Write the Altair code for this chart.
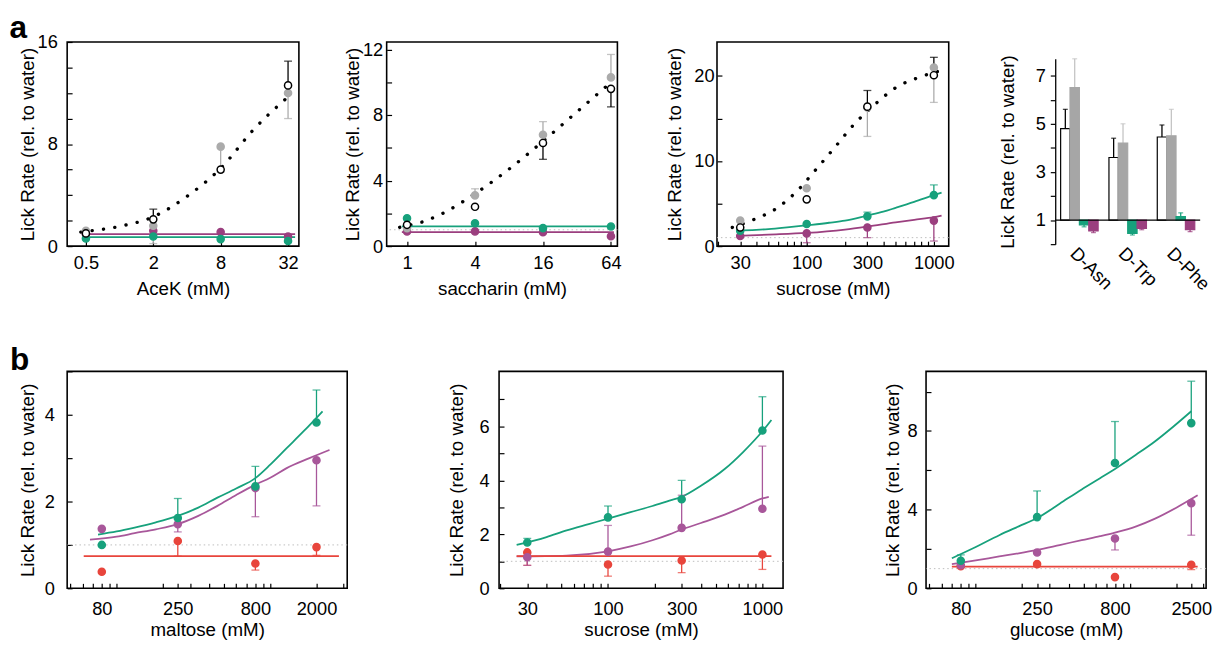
import altair as alt
import pandas as pd

FONT = "Liberation Sans"
GREEN = "#17a17c"
PURPLE = "#9b3f7f"
PURPLE_B = "#a8579a"
RED = "#e8453c"
GREY = "#ababab"
BAR_GREY = "#a6a6a6"

A_SERIES = ["control", "1-KO", "2-KO", "3-KO"]
B_SERIES = ["2-KO", "3-KO", "2/3-KO"]

# ---------------- panel a1 : AceK ----------------
ACEK_MM = [0.5, 2, 8, 32]
ACEK_CONTROL = [1.0, 2.1, 6.0, 12.6]
ACEK_CONTROL_END = [1.0, 2.9, 6.0, 14.5]
ACEK_1KO = [1.2, 1.6, 7.8, 12.0]
ACEK_1KO_END = [1.2, 0.2, 5.8, 10.0]
ACEK_2KO = [0.6, 0.75, 0.55, 0.4]
ACEK_3KO = [0.95, 1.2, 1.1, 0.75]
ACEK_DOT_X = [0.45, 0.5, 1, 2, 4, 8, 16, 32, 35]
ACEK_DOT_Y = [1.1, 1.15, 1.55, 2.3, 3.9, 6.1, 9.2, 11.7, 12.0]
ACEK_LINE_X = [0.47, 37]
ACEK_LINE_2KO = [0.7, 0.7]
ACEK_LINE_3KO = [0.95, 0.95]

# ---------------- panel a2 : saccharin ----------------
SACC_MM = [1, 4, 16, 64]
SACC_CONTROL = [1.3, 2.4, 6.3, 9.6]
SACC_CONTROL_END = [1.3, 2.4, 5.3, 8.5]
SACC_1KO = [1.1, 3.1, 6.8, 10.3]
SACC_1KO_END = [1.1, 3.5, 7.6, 11.7]
SACC_2KO = [1.7, 1.4, 1.1, 1.2]
SACC_3KO = [0.9, 0.9, 0.85, 0.6]
SACC_DOT_X = [0.86, 1.4, 2, 4, 8, 16, 32, 64]
SACC_DOT_Y = [1.15, 1.5, 1.95, 3.2, 4.7, 6.4, 8.2, 10.0]
SACC_LINE_X = [0.9, 68]
SACC_LINE_2KO = [1.2, 1.2]
SACC_LINE_3KO = [0.85, 0.85]

# ---------------- panel a3 : sucrose ----------------
SUCA_MM = [30, 100, 300, 1000]
SUCA_CONTROL = [2.2, 5.5, 16.4, 20.1]
SUCA_CONTROL_END = [2.2, 5.5, 18.3, 22.2]
SUCA_1KO = [3.0, 6.8, 16.3, 21.0]
SUCA_1KO_END = [3.0, 6.8, 12.9, 16.9]
SUCA_2KO = [1.8, 2.6, 3.5, 6.0]
SUCA_2KO_END = [1.8, 2.6, 4.0, 7.2]
SUCA_3KO = [1.2, 1.5, 2.2, 3.0]
SUCA_3KO_END = [1.2, 0.4, 1.0, 0.6]
SUCA_DOT_X = [26, 38, 56, 83, 118, 164, 235, 346, 510, 750, 1110]
SUCA_DOT_Y = [2.2, 3.1, 4.3, 6.4, 9.0, 11.5, 14.3, 16.7, 18.7, 19.8, 20.6]
SUCA_2KO_FIT_X = [28, 40, 50, 70, 100, 150, 200, 300, 400, 500, 700, 1000, 1150]
SUCA_2KO_FIT_Y = [1.85, 1.92, 2.0, 2.2, 2.45, 2.75, 3.0, 3.6, 4.05, 4.5, 5.2, 6.0, 6.3]
SUCA_3KO_FIT_X = [28, 50, 100, 200, 300, 500, 700, 1000, 1150]
SUCA_3KO_FIT_Y = [1.2, 1.35, 1.55, 1.95, 2.3, 2.8, 3.1, 3.4, 3.6]

# ---------------- panel a4 : D-amino acids ----------------
BAR_CATS = ["D-Asn", "D-Trp", "D-Phe"]
BAR_CONTROL = [4.8, 3.6, 4.45]
BAR_CONTROL_END = [5.6, 4.4, 4.95]
BAR_1KO = [6.5, 4.2, 4.5]
BAR_1KO_END = [7.7, 5.0, 5.6]
BAR_2KO = [0.8, 0.45, 1.15]
BAR_2KO_END = [0.72, 0.38, 1.3]
BAR_3KO = [0.55, 0.65, 0.6]
BAR_3KO_END = [0.48, 0.6, 0.52]
BAR_BASE = 1.0

# ---------------- panel b1 : maltose ----------------
MALT_MM = [80, 250, 800, 2000]
MALT_2KO = [1.0, 1.62, 2.35, 3.82]
MALT_2KO_END = [1.0, 2.07, 2.81, 4.57]
MALT_3KO = [1.37, 1.48, 2.31, 2.95]
MALT_3KO_END = [1.37, 1.3, 1.65, 1.9]
MALT_23KO = [0.38, 1.09, 0.57, 0.95]
MALT_23KO_END = [0.38, 0.74, 0.42, 0.76]
MALT_2KO_FIT_X = [75.6, 100, 131, 180, 250, 340, 453, 600, 800, 1000, 1279, 1650, 2190]
MALT_2KO_FIT_Y = [1.24, 1.31, 1.40, 1.52, 1.67, 1.86, 2.09, 2.30, 2.54, 2.85, 3.23, 3.62, 4.08]
MALT_3KO_FIT_X = [67, 100, 131, 180, 250, 340, 453, 600, 800, 1000, 1279, 1800, 2430]
MALT_3KO_FIT_Y = [1.12, 1.19, 1.27, 1.36, 1.48, 1.67, 1.90, 2.15, 2.39, 2.55, 2.77, 3.0, 3.19]
MALT_23KO_FIT_X = [61, 2800]
MALT_23KO_FIT_Y = [0.74, 0.74]

# ---------------- panel b2 : sucrose ----------------
SUCB_MM = [30, 100, 300, 1000]
SUCB_2KO = [1.7, 2.63, 3.3, 5.85]
SUCB_2KO_END = [1.85, 3.05, 4.0, 7.1]
SUCB_3KO = [1.15, 1.36, 2.24, 2.95]
SUCB_3KO_END = [0.85, 2.33, 3.45, 5.27]
SUCB_23KO = [1.33, 0.88, 1.03, 1.25]
SUCB_23KO_END = [0.85, 0.45, 0.58, 0.7]
SUCB_2KO_FIT_X = [25.6, 40, 54, 75, 100, 140, 194, 250, 300, 400, 570, 750, 1000, 1144]
SUCB_2KO_FIT_Y = [1.61, 1.9, 2.15, 2.38, 2.58, 2.82, 3.05, 3.25, 3.39, 3.8, 4.42, 5.05, 5.82, 6.24]
SUCB_3KO_FIT_X = [25.6, 54, 100, 140, 194, 250, 300, 400, 570, 750, 1000, 1100]
SUCB_3KO_FIT_Y = [1.18, 1.21, 1.37, 1.55, 1.78, 2.0, 2.18, 2.42, 2.73, 3.02, 3.33, 3.39]
SUCB_23KO_FIT_X = [25.6, 1144]
SUCB_23KO_FIT_Y = [1.19, 1.19]

# ---------------- panel b3 : glucose ----------------
GLUC_MM = [80, 250, 800, 2500]
GLUC_2KO = [1.4, 3.62, 6.37, 8.4]
GLUC_2KO_END = [1.7, 4.95, 8.48, 10.53]
GLUC_3KO = [1.17, 1.82, 2.53, 4.33]
GLUC_3KO_END = [1.17, 1.82, 1.95, 2.7]
GLUC_23KO = [1.12, 1.23, 0.57, 1.2]
GLUC_23KO_END = [1.12, 1.23, 0.57, 0.95]
GLUC_2KO_FIT_X = [70, 100, 142, 190, 250, 350, 487, 640, 800, 1100, 1444, 1900, 2500]
GLUC_2KO_FIT_Y = [1.53, 2.1, 2.7, 3.15, 3.57, 4.3, 5.03, 5.6, 6.07, 6.8, 7.45, 8.2, 9.0]
GLUC_3KO_FIT_X = [70, 100, 142, 190, 250, 350, 487, 640, 800, 1100, 1444, 2000, 2750]
GLUC_3KO_FIT_Y = [1.23, 1.42, 1.62, 1.78, 1.95, 2.2, 2.45, 2.65, 2.83, 3.15, 3.53, 4.1, 4.73]
GLUC_23KO_FIT_X = [70, 2750]
GLUC_23KO_FIT_Y = [1.1, 1.1]

# axis tick positions and labels
ACEK_XTICKS = [0.5, 2, 8, 32]
SACC_XTICKS = [1, 4, 16, 64]
SUC_XTICKS = [20, 30, 40, 50, 60, 70, 80, 90, 100, 200, 300, 400, 500, 600, 700, 800, 900, 1000]
SUC_XLABELS = [30, 100, 300, 1000]
MALT_XTICKS = [50, 60, 70, 80, 90, 100, 200, 250, 300, 400, 500, 600, 700, 800, 900, 1000, 2000, 3000]
MALT_XLABELS = [80, 250, 800, 2000]
GLUC_XTICKS = [50, 60, 70, 80, 90, 100, 200, 250, 300, 400, 500, 600, 700, 800, 900, 1000, 2000, 2500, 3000]
GLUC_XLABELS = [80, 250, 800, 2500]

YTITLE = "Lick Rate (rel. to water)"
LABEL_SIZE = 18.5
XTITLE_SIZE = 19
YTITLE_SIZE = 19


def lab_expr(vals):
    return "indexof([" + ",".join(repr(v) for v in vals) + "], datum.value) >= 0 ? datum.label : ''"


def point_frame(xs, series):
    rows = []
    for name, vals, ends in series:
        for x, v, e in zip(xs, vals, ends):
            rows.append({"x": x, "y": v, "end": e, "s": name})
    return pd.DataFrame(rows)


def curve_frame(curves):
    rows = []
    for name, xs, ys in curves:
        for x, y in zip(xs, ys):
            rows.append({"x": x, "y": y, "s": name})
    return pd.DataFrame(rows)


def x_axis(vals, labels, title, label_pad, title_pad):
    return alt.Axis(values=vals, labelExpr=lab_expr(labels), format="~g", title=title,
                    domain=False, ticks=True, tickSize=5, offset=-5, tickColor="black",
                    tickWidth=1.2, labelPadding=label_pad, labelFontSize=LABEL_SIZE,
                    titleFontSize=XTITLE_SIZE, titlePadding=title_pad, grid=False,
                    labelFlush=False, labelOverlap=False, labelColor="black",
                    titleColor="black", titleFontWeight="normal")


def y_axis(vals, labels, label_pad, title_pad):
    return alt.Axis(values=vals, labelExpr=lab_expr(labels), format="~g", title=YTITLE,
                    domain=False, ticks=True, tickSize=5, offset=-5, tickColor="black",
                    tickWidth=1.2, labelPadding=label_pad, labelFontSize=LABEL_SIZE,
                    titleFontSize=YTITLE_SIZE, titlePadding=title_pad, grid=False, labelFlush=False,
                    labelOverlap=False, labelColor="black", titleColor="black",
                    titleFontWeight="normal")


def line_panel(pts, curves, dotted, xdom, xticks, xlabels, xtitle, ydom, yticks, ylabels,
               width, height, domain, fills, strokes, legend=None, ref_one=False,
               ylabel_pad=8, ytitle_pad=6, xlabel_pad=8, xtitle_pad=8):
    xsc = alt.Scale(type="log", domain=xdom, nice=False)
    ysc = alt.Scale(domain=ydom, nice=False, zero=False)
    xax = x_axis(xticks, xlabels, xtitle, xlabel_pad, xtitle_pad)
    yax = y_axis(yticks, ylabels, ylabel_pad, ytitle_pad)
    X = alt.X("x:Q", scale=xsc, axis=xax)
    Y = alt.Y("y:Q", scale=ysc, axis=yax)
    color = alt.Color("s:N", scale=alt.Scale(domain=domain, range=strokes), legend=None)
    layers = []
    if ref_one:
        layers.append(alt.Chart(pd.DataFrame({"y": [1.0]})).mark_rule(
            color="#bdbdbd", strokeDash=[1.5, 3], strokeWidth=1).encode(y=Y))
    if dotted is not None:
        layers.append(alt.Chart(pd.DataFrame({"x": dotted[0], "y": dotted[1]})).mark_line(
            color="black", strokeWidth=3.4, strokeDash=[0.1, 11.5], strokeCap="round",
            interpolate="monotone", clip=True
        ).encode(x=X, y=Y))
    layers.append(alt.Chart(curve_frame(curves)).mark_line(
        strokeWidth=1.8, interpolate="monotone", clip=True).encode(x=X, y=Y, color=color))
    err = pts[pts["end"] != pts["y"]]
    layers.append(alt.Chart(err).mark_rule(strokeWidth=1.3).encode(
        x=X, y=Y, y2="end:Q", color=color))
    layers.append(alt.Chart(err).mark_tick(orient="horizontal", size=8, thickness=1.3).encode(
        x=X, y=alt.Y("end:Q", scale=ysc, axis=yax), color=color))
    layers.append(alt.Chart(pts).mark_point(filled=True, size=52, strokeWidth=1.5, opacity=1).encode(
        x=X, y=Y,
        fill=alt.Fill("s:N", scale=alt.Scale(domain=domain, range=fills), legend=legend),
        stroke=alt.Stroke("s:N", scale=alt.Scale(domain=domain, range=strokes), legend=legend)))
    return alt.layer(*layers).properties(width=width, height=height)


A_FILLS = ["white", GREY, GREEN, PURPLE]
A_STROKES = ["black", GREY, GREEN, PURPLE]
B_COLORS = [GREEN, PURPLE_B, RED]

legend_a = alt.Legend(orient="none", legendX=12, legendY=7, title=None, strokeColor="black",
                      fillColor="white", padding=7, symbolOffset=3, symbolSize=26,
                      symbolStrokeWidth=1.5, labelOffset=14, labelFontSize=13, rowPadding=3,
                      labelFont=FONT, labelColor="black", symbolType="circle")
legend_b = alt.Legend(orient="none", legendX=15, legendY=6, title=None, strokeColor="black",
                      fillColor="white", padding=6, symbolOffset=10, symbolSize=30,
                      symbolStrokeWidth=1.5, labelOffset=16, labelFontSize=13, rowPadding=11,
                      labelFont=FONT, labelColor="black", symbolType="circle",
                      labelExpr="datum.label + '" + "\u00a0" * 9 + "'")

# ----- a1
a1_pts = point_frame(ACEK_MM, [("3-KO", ACEK_3KO, ACEK_3KO), ("2-KO", ACEK_2KO, ACEK_2KO),
                               ("1-KO", ACEK_1KO, ACEK_1KO_END), ("control", ACEK_CONTROL, ACEK_CONTROL_END)])
a1 = line_panel(a1_pts, [("2-KO", ACEK_LINE_X, ACEK_LINE_2KO), ("3-KO", ACEK_LINE_X, ACEK_LINE_3KO)],
                (ACEK_DOT_X, ACEK_DOT_Y), [0.34, 40], ACEK_XTICKS, ACEK_XTICKS, "AceK (mM)",
                [0, 16], list(range(0, 17, 2)), [0, 8, 16], 235, 207, A_SERIES, A_FILLS, A_STROKES,
                legend=legend_a, ylabel_pad=10, ytitle_pad=0)

# ----- a2
a2_pts = point_frame(SACC_MM, [("3-KO", SACC_3KO, SACC_3KO), ("2-KO", SACC_2KO, SACC_2KO),
                               ("1-KO", SACC_1KO, SACC_1KO_END), ("control", SACC_CONTROL, SACC_CONTROL_END)])
a2 = line_panel(a2_pts, [("2-KO", SACC_LINE_X, SACC_LINE_2KO), ("3-KO", SACC_LINE_X, SACC_LINE_3KO)],
                (SACC_DOT_X, SACC_DOT_Y), [0.66, 73], SACC_XTICKS, SACC_XTICKS, "saccharin (mM)",
                [0, 12.46], list(range(0, 13, 2)), [0, 4, 8, 12], 234, 207, A_SERIES, A_FILLS, A_STROKES,
                ref_one=True, ylabel_pad=4, ytitle_pad=0)

# ----- a3
a3_pts = point_frame(SUCA_MM, [("3-KO", SUCA_3KO, SUCA_3KO_END), ("2-KO", SUCA_2KO, SUCA_2KO_END),
                               ("1-KO", SUCA_1KO, SUCA_1KO_END), ("control", SUCA_CONTROL, SUCA_CONTROL_END)])
a3 = line_panel(a3_pts, [("2-KO", SUCA_2KO_FIT_X, SUCA_2KO_FIT_Y), ("3-KO", SUCA_3KO_FIT_X, SUCA_3KO_FIT_Y)],
                (SUCA_DOT_X, SUCA_DOT_Y), [19.7, 1309], SUC_XTICKS, SUC_XLABELS, "sucrose (mM)",
                [0, 24], [0, 5, 10, 15, 20], [0, 10, 20], 235, 207, A_SERIES, A_FILLS, A_STROKES,
                ref_one=True, ylabel_pad=3, ytitle_pad=9)

# ----- a4 (bars)
bar_rows = []
for name, vals, ends in [("control", BAR_CONTROL, BAR_CONTROL_END), ("1-KO", BAR_1KO, BAR_1KO_END),
                         ("2-KO", BAR_2KO, BAR_2KO_END), ("3-KO", BAR_3KO, BAR_3KO_END)]:
    for c, v, e in zip(BAR_CATS, vals, ends):
        bar_rows.append({"cat": c, "s": name, "y": v, "end": e, "base": BAR_BASE})
bars_df = pd.DataFrame(bar_rows)

bx_axis = alt.Axis(title=None, domain=False, ticks=False, labelAngle=45, labelAlign="left",
                   labelBaseline="middle", labelFontSize=LABEL_SIZE, labelPadding=6, labelOffset=-6,
                   labelColor="black")
by_axis = alt.Axis(values=list(range(0, 8)), labelExpr=lab_expr([1, 3, 5, 7]), title=YTITLE,
                   domain=True, domainColor="black", domainWidth=1.3, ticks=True, tickSize=5,
                   tickColor="black", tickWidth=1.2, labelPadding=5, labelFontSize=LABEL_SIZE,
                   titleFontSize=YTITLE_SIZE, titlePadding=18, grid=False, labelColor="black",
                   titleColor="black", titleFontWeight="normal")
BX = alt.X("cat:N", sort=BAR_CATS, scale=alt.Scale(paddingInner=0.224, paddingOuter=0.112), axis=bx_axis)
BXO = alt.XOffset("s:N", sort=A_SERIES, scale=alt.Scale(domain=A_SERIES, paddingInner=0.0))
bysc = alt.Scale(domain=[0, 7.7], range=[205, 17], nice=False, zero=False)
BY = alt.Y("y:Q", scale=bysc, axis=by_axis)
bar_fill = alt.Fill("s:N", scale=alt.Scale(domain=A_SERIES, range=["white", BAR_GREY, GREEN, PURPLE]), legend=None)
bar_stroke = alt.Stroke("s:N", scale=alt.Scale(domain=A_SERIES, range=["black", BAR_GREY, GREEN, PURPLE]), legend=None)
err_col = alt.Color("s:N", scale=alt.Scale(domain=A_SERIES, range=["black", "#c4c4c4", GREEN, PURPLE]), legend=None)

a4 = alt.layer(
    alt.Chart(bars_df).mark_rule(strokeWidth=1.3).encode(x=BX, xOffset=BXO, y=BY, y2="end:Q", color=err_col),
    alt.Chart(bars_df).mark_tick(orient="horizontal", size=5, thickness=1.3).encode(
        x=BX, xOffset=BXO, y=alt.Y("end:Q", scale=bysc, axis=by_axis), color=err_col),
    alt.Chart(bars_df).mark_bar(strokeWidth=1.2).encode(x=BX, xOffset=BXO, y=BY, y2="base:Q",
                                                        fill=bar_fill, stroke=bar_stroke),
    alt.Chart(pd.DataFrame({"y": [BAR_BASE]})).mark_rule(color="black", strokeWidth=1.3).encode(y=BY),
).properties(width=147, height=205, view=alt.ViewBackground(stroke=None))

# ----- b1
b1_pts = point_frame(MALT_MM, [("2/3-KO", MALT_23KO, MALT_23KO_END), ("3-KO", MALT_3KO, MALT_3KO_END),
                               ("2-KO", MALT_2KO, MALT_2KO_END)])
b1 = line_panel(b1_pts, [("2-KO", MALT_2KO_FIT_X, MALT_2KO_FIT_Y), ("3-KO", MALT_3KO_FIT_X, MALT_3KO_FIT_Y),
                         ("2/3-KO", MALT_23KO_FIT_X, MALT_23KO_FIT_Y)],
                None, [47.6, 3170], MALT_XTICKS, MALT_XLABELS, "maltose (mM)",
                [0, 5.0], [0, 1, 2, 3, 4, 5], [0, 2, 4], 284, 220, B_SERIES, B_COLORS, B_COLORS,
                legend=legend_b, ref_one=True, ylabel_pad=13, ytitle_pad=7, xlabel_pad=12, xtitle_pad=2)

# ----- b2
b2_pts = point_frame(SUCB_MM, [("2/3-KO", SUCB_23KO, SUCB_23KO_END), ("3-KO", SUCB_3KO, SUCB_3KO_END),
                               ("2-KO", SUCB_2KO, SUCB_2KO_END)])
b2 = line_panel(b2_pts, [("2-KO", SUCB_2KO_FIT_X, SUCB_2KO_FIT_Y), ("3-KO", SUCB_3KO_FIT_X, SUCB_3KO_FIT_Y),
                         ("2/3-KO", SUCB_23KO_FIT_X, SUCB_23KO_FIT_Y)],
                None, [19.7, 1361], SUC_XTICKS, SUC_XLABELS, "sucrose (mM)",
                [0, 8.04], list(range(0, 8)), [0, 2, 4, 6], 288, 220, B_SERIES, B_COLORS, B_COLORS,
                ref_one=True, ylabel_pad=10, ytitle_pad=13, xlabel_pad=12, xtitle_pad=2)

# ----- b3
b3_pts = point_frame(GLUC_MM, [("2/3-KO", GLUC_23KO, GLUC_23KO_END), ("3-KO", GLUC_3KO, GLUC_3KO_END),
                               ("2-KO", GLUC_2KO, GLUC_2KO_END)])
b3 = line_panel(b3_pts, [("2-KO", GLUC_2KO_FIT_X, GLUC_2KO_FIT_Y), ("3-KO", GLUC_3KO_FIT_X, GLUC_3KO_FIT_Y),
                         ("2/3-KO", GLUC_23KO_FIT_X, GLUC_23KO_FIT_Y)],
                None, [47.6, 3120], GLUC_XTICKS, GLUC_XLABELS, "glucose (mM)",
                [0, 11.03], [0, 2, 4, 6, 8, 10], [0, 4, 8], 284, 220, B_SERIES, B_COLORS, B_COLORS,
                ref_one=True, ylabel_pad=9, ytitle_pad=5, xlabel_pad=12, xtitle_pad=2)

IND = dict(color="independent", fill="independent", stroke="independent")

row_a = alt.hconcat(a1, a2, a3, a4, spacing=43,
                    title=alt.TitleParams("a", anchor="start", fontSize=32, fontWeight="bold",
                                          font=FONT, color="black", offset=-13, dx=-8)
                    ).resolve_scale(**IND).resolve_legend(**IND)
row_b = alt.hconcat(b1, b2, b3, spacing=98,
                    title=alt.TitleParams("b", anchor="start", fontSize=32, fontWeight="bold",
                                          font=FONT, color="black", offset=-15, dx=-8)
                    ).resolve_scale(**IND).resolve_legend(**IND)

chart = alt.vconcat(row_a, row_b, spacing=44).resolve_scale(**IND).resolve_legend(**IND).properties(
    padding={"left": 1, "top": 0, "right": 0, "bottom": 0}
).configure(font=FONT).configure_view(stroke="black", strokeWidth=1.6).configure_legend(strokeWidth=1.5)

chart.save("out.html", embed_options={"renderer": "svg", "actions": False})
